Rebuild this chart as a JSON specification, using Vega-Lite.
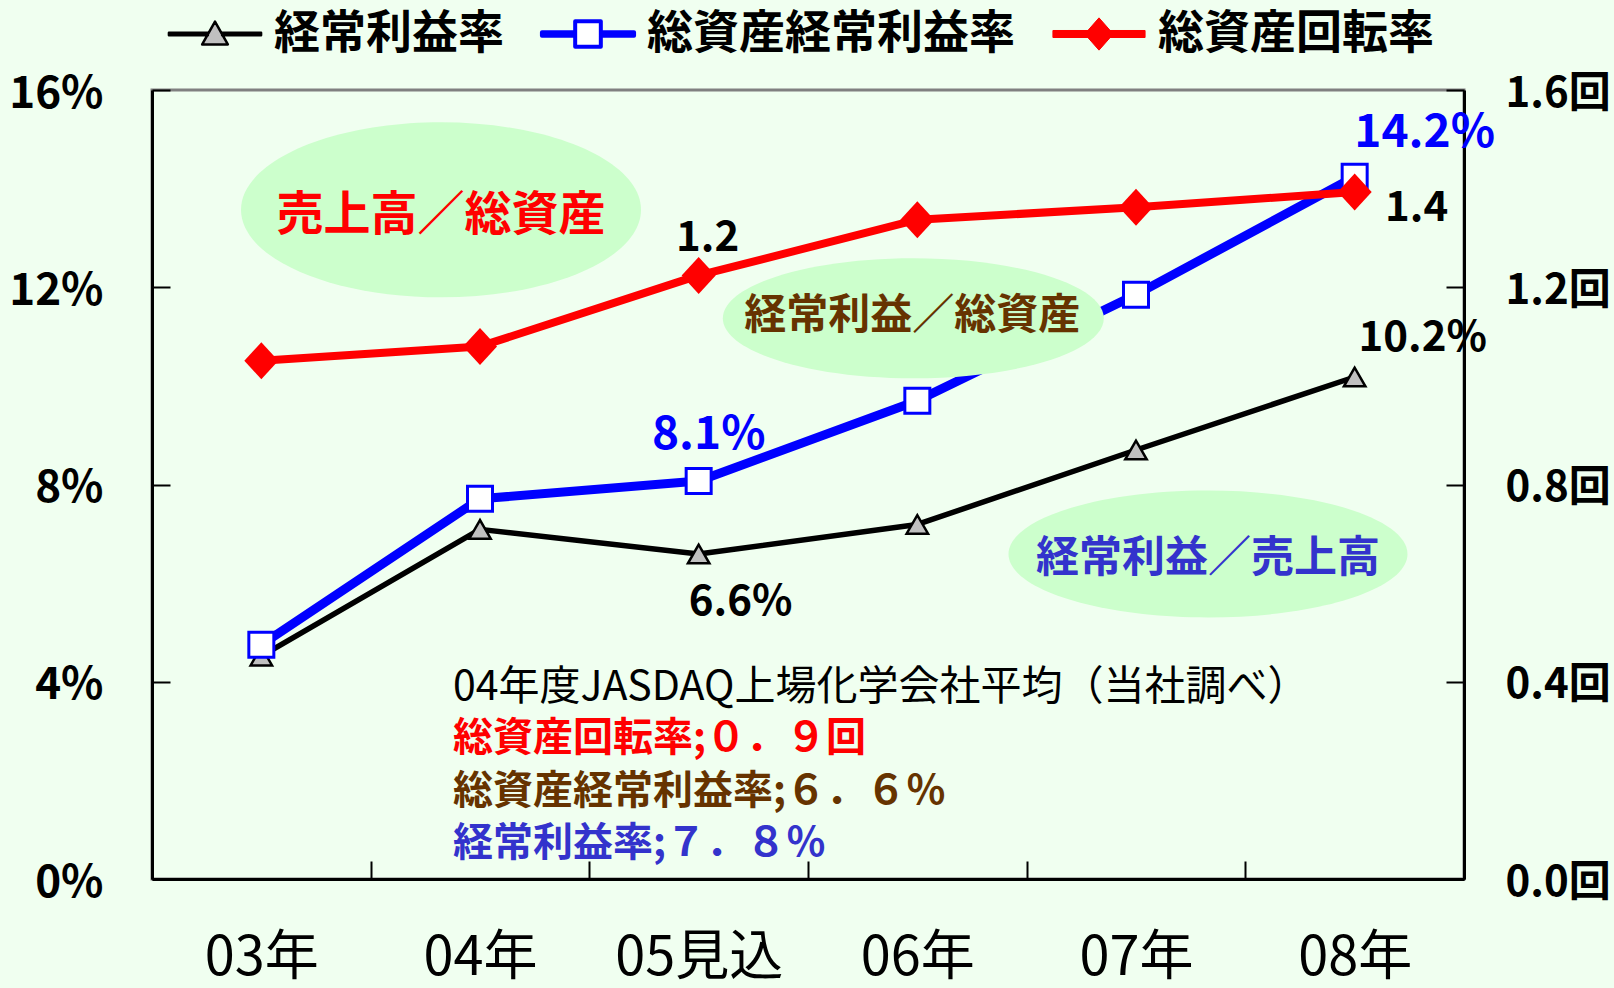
{
  "$schema": "https://vega.github.io/schema/vega-lite/v6.json",
  "width": 1312,
  "height": 789,
  "autosize": "none",
  "padding": {"left": 152, "top": 90, "right": 150, "bottom": 109},
  "background": "#F0FFF0",
  "config": {
    "view": {"stroke": "#808080", "strokeWidth": 3},
    "font": "Noto Sans CJK JP",
    "text": {"font": "Noto Sans CJK JP"}
  },
  "datasets": {
    "d": [
      {"year": "03年", "series": "経常利益率", "value": 4.52},
      {"year": "04年", "series": "経常利益率", "value": 7.09},
      {"year": "05見込", "series": "経常利益率", "value": 6.59},
      {"year": "06年", "series": "経常利益率", "value": 7.19},
      {"year": "07年", "series": "経常利益率", "value": 8.70},
      {"year": "08年", "series": "経常利益率", "value": 10.18},
      {"year": "03年", "series": "総資産経常利益率", "value": 4.75},
      {"year": "04年", "series": "総資産経常利益率", "value": 7.71},
      {"year": "05見込", "series": "総資産経常利益率", "value": 8.07},
      {"year": "06年", "series": "総資産経常利益率", "value": 9.70},
      {"year": "07年", "series": "総資産経常利益率", "value": 11.85},
      {"year": "08年", "series": "総資産経常利益率", "value": 14.24},
      {"year": "03年", "series": "総資産回転率", "value": 1.051},
      {"year": "04年", "series": "総資産回転率", "value": 1.080},
      {"year": "05見込", "series": "総資産回転率", "value": 1.224},
      {"year": "06年", "series": "総資産回転率", "value": 1.337},
      {"year": "07年", "series": "総資産回転率", "value": 1.362},
      {"year": "08年", "series": "総資産回転率", "value": 1.393}
    ],
    "one": [{}]
  },
  "data": {"name": "d"},
  "resolve": {"scale": {"y": "independent"}},
  "layer": [
    {
      "transform": [{"filter": "datum.series === '経常利益率'"}],
      "mark": {"type": "line", "strokeWidth": 5.5, "strokeJoin": "round"},
      "encoding": {
        "x": {
          "field": "year", "type": "nominal", "sort": null, "bandPosition": 0.5,
          "scale": {"type": "band", "domain": ["03年", "04年", "05見込", "06年", "07年", "08年"], "paddingInner": 0, "paddingOuter": 0},
          "axis": {
            "orient": "bottom", "title": null, "labelAngle": 0, "tickBand": "extent", "grid": false,
            "tickSize": -18, "tickWidth": 2, "tickColor": "#000000", "domainColor": "#000000", "domainWidth": 3,
            "labelFont": "Noto Sans CJK JP", "labelFontSize": 54, "labelFontWeight": "normal", "labelColor": "#000000",
            "labelPadding": 70
          }
        },
        "y": {
          "field": "value", "type": "quantitative", "scale": {"domain": [0, 16], "nice": false},
          "axis": {
            "orient": "left", "values": [0, 4, 8, 12, 16], "labelExpr": "datum.value + '%'", "title": null, "grid": false,
            "tickSize": -18, "tickWidth": 2, "tickColor": "#000000", "domainColor": "#000000", "domainWidth": 3,
            "labelFont": "Noto Sans CJK JP", "labelFontSize": 44, "labelFontWeight": "bold", "labelColor": "#000000",
            "labelPadding": 67, "labelOffset": 4
          }
        },
        "stroke": {
          "field": "series", "type": "nominal",
          "scale": {"domain": ["経常利益率", "総資産経常利益率", "総資産回転率"], "range": ["#000000", "#0000FF", "#FF0000"]},
          "legend": {
            "title": null, "orient": "top", "direction": "horizontal", "offset": 33, "padding": 0,
            "labelFont": "Noto Sans CJK JP", "labelFontSize": 46, "labelFontWeight": "bold", "labelColor": "#000000",
            "labelLimit": 600, "labelOffset": 36, "symbolOffset": 40, "columnPadding": 21, "symbolSize": 9025,
            "encode": {
              "symbols": {
                "update": {
                  "shape": {"signal": "datum.value === '経常利益率' ? 'M-0.97,-0.026 L-0.15,-0.026 L-0.15,0.026 L-0.97,0.026 Z M0.15,-0.026 L0.97,-0.026 L0.97,0.026 L0.15,0.026 Z M0,-0.26 L0.27,0.22 L-0.27,0.22 Z' : datum.value === '総資産経常利益率' ? 'M-0.97,-0.038 L-0.27,-0.038 L-0.27,0.038 L-0.97,0.038 Z M0.27,-0.038 L0.97,-0.038 L0.97,0.038 L0.27,0.038 Z M-0.27,-0.27 L0.27,-0.27 L0.27,0.27 L-0.27,0.27 Z' : 'M-0.97,-0.074 L0.97,-0.074 L0.97,0.074 L-0.97,0.074 Z M0,-0.34 L0.3,0 L0,0.34 L-0.3,0 Z'"},
                  "size": {"value": 9025},
                  "fill": {"signal": "datum.value === '経常利益率' ? '#C0C0C0' : datum.value === '総資産経常利益率' ? '#FFFFFF' : '#FF0000'"},
                  "stroke": {"signal": "datum.value === '経常利益率' ? '#000000' : datum.value === '総資産経常利益率' ? '#0000FF' : '#FF0000'"},
                  "strokeWidth": {"signal": "datum.value === '経常利益率' ? 2.5 : datum.value === '総資産経常利益率' ? 4 : 1"},
                  "strokeJoin": {"value": "round"},
                  "opacity": {"value": 1},
                  "fillOpacity": {"value": 1},
                  "strokeOpacity": {"value": 1}
                }
              }
            }
          }
        }
      }
    },
    {
      "transform": [{"filter": "datum.series === '経常利益率'"}],
      "mark": {"type": "point", "shape": "triangle-up", "size": 460, "filled": true, "fill": "#C0C0C0", "stroke": "#000000", "strokeWidth": 2.5, "opacity": 1},
      "encoding": {
        "x": {"field": "year", "type": "nominal", "sort": null, "bandPosition": 0.5},
        "y": {"field": "value", "type": "quantitative", "scale": {"domain": [0, 16], "nice": false}, "axis": null}
      }
    },
    {
      "transform": [{"filter": "datum.series === '総資産経常利益率'"}],
      "mark": {"type": "line", "strokeWidth": 9, "strokeJoin": "round"},
      "encoding": {
        "x": {"field": "year", "type": "nominal", "sort": null, "bandPosition": 0.5},
        "y": {"field": "value", "type": "quantitative", "scale": {"domain": [0, 16], "nice": false}, "axis": null},
        "stroke": {"field": "series", "type": "nominal"}
      }
    },
    {
      "transform": [{"filter": "datum.series === '総資産経常利益率'"}],
      "mark": {"type": "point", "shape": "square", "size": 625, "filled": true, "fill": "#FFFFFF", "stroke": "#0000FF", "strokeWidth": 3, "opacity": 1},
      "encoding": {
        "x": {"field": "year", "type": "nominal", "sort": null, "bandPosition": 0.5},
        "y": {"field": "value", "type": "quantitative", "scale": {"domain": [0, 16], "nice": false}, "axis": null}
      }
    },
    {
      "transform": [{"filter": "datum.series === '総資産回転率'"}],
      "mark": {"type": "line", "strokeWidth": 8, "strokeJoin": "round"},
      "encoding": {
        "x": {"field": "year", "type": "nominal", "sort": null, "bandPosition": 0.5},
        "y": {
          "field": "value", "type": "quantitative", "scale": {"domain": [0, 1.6], "nice": false},
          "axis": {
            "orient": "right", "values": [0, 0.4, 0.8, 1.2, 1.6], "labelExpr": "format(datum.value, '.1f') + '回'", "title": null, "grid": false,
            "tickSize": -18, "tickWidth": 2, "tickColor": "#000000", "domainColor": "#000000", "domainWidth": 3,
            "labelFont": "Noto Sans CJK JP", "labelFontSize": 42, "labelFontWeight": "bold", "labelColor": "#000000",
            "labelPadding": 59, "labelOffset": 3
          }
        },
        "stroke": {"field": "series", "type": "nominal"}
      }
    },
    {
      "transform": [{"filter": "datum.series === '総資産回転率'"}],
      "mark": {"type": "point", "shape": "M0,-1 L0.92,0 L0,1 L-0.92,0 Z", "size": 1369, "filled": true, "fill": "#FF0000", "strokeWidth": 0, "opacity": 1},
      "encoding": {
        "x": {"field": "year", "type": "nominal", "sort": null, "bandPosition": 0.5},
        "y": {"field": "value", "type": "quantitative", "scale": {"domain": [0, 1.6], "nice": false}, "axis": null}
      }
    },
    {
      "data": {"name": "one"},
      "mark": {"type": "point", "shape": "M-1,0 A1,0.4375 0 1,1 1,0 A1,0.4375 0 1,1 -1,0 Z", "size": 160000, "filled": true, "fill": "#CCFFCC", "strokeWidth": 0, "opacity": 1, "xOffset": -39},
      "encoding": {
        "x": {"datum": "04年", "type": "nominal", "bandPosition": 0.5},
        "y": {"datum": 13.57, "type": "quantitative", "scale": {"domain": [0, 16], "nice": false}, "axis": null}
      }
    },
    {
      "data": {"name": "one"},
      "mark": {"type": "point", "shape": "M-1,0 A1,0.315 0 1,1 1,0 A1,0.315 0 1,1 -1,0 Z", "size": 145161, "filled": true, "fill": "#CCFFCC", "strokeWidth": 0, "opacity": 1, "xOffset": -4},
      "encoding": {
        "x": {"datum": "06年", "type": "nominal", "bandPosition": 0.5},
        "y": {"datum": 11.37, "type": "quantitative", "scale": {"domain": [0, 16], "nice": false}, "axis": null}
      }
    },
    {
      "data": {"name": "one"},
      "mark": {"type": "point", "shape": "M-1,0 A1,0.318 0 1,1 1,0 A1,0.318 0 1,1 -1,0 Z", "size": 159201, "filled": true, "fill": "#CCFFCC", "strokeWidth": 0, "opacity": 1, "xOffset": 72},
      "encoding": {
        "x": {"datum": "07年", "type": "nominal", "bandPosition": 0.5},
        "y": {"datum": 6.59, "type": "quantitative", "scale": {"domain": [0, 16], "nice": false}, "axis": null}
      }
    },
    {
      "data": {"name": "one"},
      "mark": {"type": "text", "text": "売上高／総資産", "font": "Noto Sans CJK JP", "fontSize": 47, "fontWeight": "bold", "color": "#FF0000", "align": "center", "baseline": "middle", "dx": -39},
      "encoding": {
        "x": {"datum": "04年", "type": "nominal", "bandPosition": 0.5},
        "y": {"datum": 13.45, "type": "quantitative", "scale": {"domain": [0, 16], "nice": false}, "axis": null}
      }
    },
    {
      "data": {"name": "one"},
      "mark": {"type": "text", "text": "経常利益／総資産", "font": "Noto Sans CJK JP", "fontSize": 42, "fontWeight": "bold", "color": "#663300", "align": "center", "baseline": "middle", "dx": -5},
      "encoding": {
        "x": {"datum": "06年", "type": "nominal", "bandPosition": 0.5},
        "y": {"datum": 11.41, "type": "quantitative", "scale": {"domain": [0, 16], "nice": false}, "axis": null}
      }
    },
    {
      "data": {"name": "one"},
      "mark": {"type": "text", "text": "経常利益／売上高", "font": "Noto Sans CJK JP", "fontSize": 43, "fontWeight": "bold", "color": "#3333CC", "align": "center", "baseline": "middle", "dx": 72},
      "encoding": {
        "x": {"datum": "07年", "type": "nominal", "bandPosition": 0.5},
        "y": {"datum": 6.48, "type": "quantitative", "scale": {"domain": [0, 16], "nice": false}, "axis": null}
      }
    },
    {
      "data": {"name": "one"},
      "mark": {"type": "text", "text": "04年度JASDAQ上場化学会社平均（当社調べ）", "font": "Noto Sans CJK JP", "fontSize": 41, "fontWeight": "normal", "color": "#000000", "align": "left", "baseline": "middle", "dx": -27},
      "encoding": {
        "x": {"datum": "04年", "type": "nominal", "bandPosition": 0.5},
        "y": {"datum": 3.87, "type": "quantitative", "scale": {"domain": [0, 16], "nice": false}, "axis": null}
      }
    },
    {
      "data": {"name": "one"},
      "mark": {"type": "text", "text": "総資産回転率;０．９回", "font": "Noto Sans CJK JP", "fontSize": 40, "fontWeight": "bold", "color": "#FF0000", "align": "left", "baseline": "middle", "dx": -27},
      "encoding": {
        "x": {"datum": "04年", "type": "nominal", "bandPosition": 0.5},
        "y": {"datum": 2.84, "type": "quantitative", "scale": {"domain": [0, 16], "nice": false}, "axis": null}
      }
    },
    {
      "data": {"name": "one"},
      "mark": {"type": "text", "text": "総資産経常利益率;６．６％", "font": "Noto Sans CJK JP", "fontSize": 40, "fontWeight": "bold", "color": "#663300", "align": "left", "baseline": "middle", "dx": -27},
      "encoding": {
        "x": {"datum": "04年", "type": "nominal", "bandPosition": 0.5},
        "y": {"datum": 1.77, "type": "quantitative", "scale": {"domain": [0, 16], "nice": false}, "axis": null}
      }
    },
    {
      "data": {"name": "one"},
      "mark": {"type": "text", "text": "経常利益率;７．８％", "font": "Noto Sans CJK JP", "fontSize": 40, "fontWeight": "bold", "color": "#3333CC", "align": "left", "baseline": "middle", "dx": -27},
      "encoding": {
        "x": {"datum": "04年", "type": "nominal", "bandPosition": 0.5},
        "y": {"datum": 0.71, "type": "quantitative", "scale": {"domain": [0, 16], "nice": false}, "axis": null}
      }
    },
    {
      "transform": [{"filter": "datum.series === '総資産回転率' && datum.year === '05見込'"}],
      "mark": {"type": "text", "font": "Noto Sans CJK JP", "fontSize": 42, "fontWeight": "bold", "color": "#000000", "align": "center", "baseline": "middle", "dx": 9, "dy": -37},
      "encoding": {
        "x": {"field": "year", "type": "nominal", "sort": null, "bandPosition": 0.5},
        "y": {"field": "value", "type": "quantitative", "scale": {"domain": [0, 1.6], "nice": false}, "axis": null},
        "text": {"field": "value", "type": "quantitative", "format": ".1f"}
      }
    },
    {
      "transform": [{"filter": "datum.series === '総資産回転率' && datum.year === '08年'"}],
      "mark": {"type": "text", "font": "Noto Sans CJK JP", "fontSize": 42, "fontWeight": "bold", "color": "#000000", "align": "center", "baseline": "middle", "dx": 62, "dy": 16},
      "encoding": {
        "x": {"field": "year", "type": "nominal", "sort": null, "bandPosition": 0.5},
        "y": {"field": "value", "type": "quantitative", "scale": {"domain": [0, 1.6], "nice": false}, "axis": null},
        "text": {"field": "value", "type": "quantitative", "format": ".1f"}
      }
    },
    {
      "transform": [{"filter": "datum.series === '総資産経常利益率' && datum.year === '08年'"}, {"calculate": "format(datum.value, '.1f') + '%'", "as": "lab"}],
      "mark": {"type": "text", "font": "Noto Sans CJK JP", "fontSize": 46, "fontWeight": "bold", "color": "#0000FF", "align": "center", "baseline": "middle", "dx": 70, "dy": -44},
      "encoding": {
        "x": {"field": "year", "type": "nominal", "sort": null, "bandPosition": 0.5},
        "y": {"field": "value", "type": "quantitative", "scale": {"domain": [0, 16], "nice": false}, "axis": null},
        "text": {"field": "lab", "type": "nominal"}
      }
    },
    {
      "transform": [{"filter": "datum.series === '総資産経常利益率' && datum.year === '05見込'"}, {"calculate": "format(datum.value, '.1f') + '%'", "as": "lab"}],
      "mark": {"type": "text", "font": "Noto Sans CJK JP", "fontSize": 46, "fontWeight": "bold", "color": "#0000FF", "align": "center", "baseline": "middle", "dx": 10, "dy": -46},
      "encoding": {
        "x": {"field": "year", "type": "nominal", "sort": null, "bandPosition": 0.5},
        "y": {"field": "value", "type": "quantitative", "scale": {"domain": [0, 16], "nice": false}, "axis": null},
        "text": {"field": "lab", "type": "nominal"}
      }
    },
    {
      "transform": [{"filter": "datum.series === '経常利益率' && datum.year === '08年'"}, {"calculate": "format(datum.value, '.1f') + '%'", "as": "lab"}],
      "mark": {"type": "text", "font": "Noto Sans CJK JP", "fontSize": 42, "fontWeight": "bold", "color": "#000000", "align": "center", "baseline": "middle", "dx": 68, "dy": -39},
      "encoding": {
        "x": {"field": "year", "type": "nominal", "sort": null, "bandPosition": 0.5},
        "y": {"field": "value", "type": "quantitative", "scale": {"domain": [0, 16], "nice": false}, "axis": null},
        "text": {"field": "lab", "type": "nominal"}
      }
    },
    {
      "transform": [{"filter": "datum.series === '経常利益率' && datum.year === '05見込'"}, {"calculate": "format(datum.value, '.1f') + '%'", "as": "lab"}],
      "mark": {"type": "text", "font": "Noto Sans CJK JP", "fontSize": 42, "fontWeight": "bold", "color": "#000000", "align": "center", "baseline": "middle", "dx": 42, "dy": 48},
      "encoding": {
        "x": {"field": "year", "type": "nominal", "sort": null, "bandPosition": 0.5},
        "y": {"field": "value", "type": "quantitative", "scale": {"domain": [0, 16], "nice": false}, "axis": null},
        "text": {"field": "lab", "type": "nominal"}
      }
    }
  ]
}
